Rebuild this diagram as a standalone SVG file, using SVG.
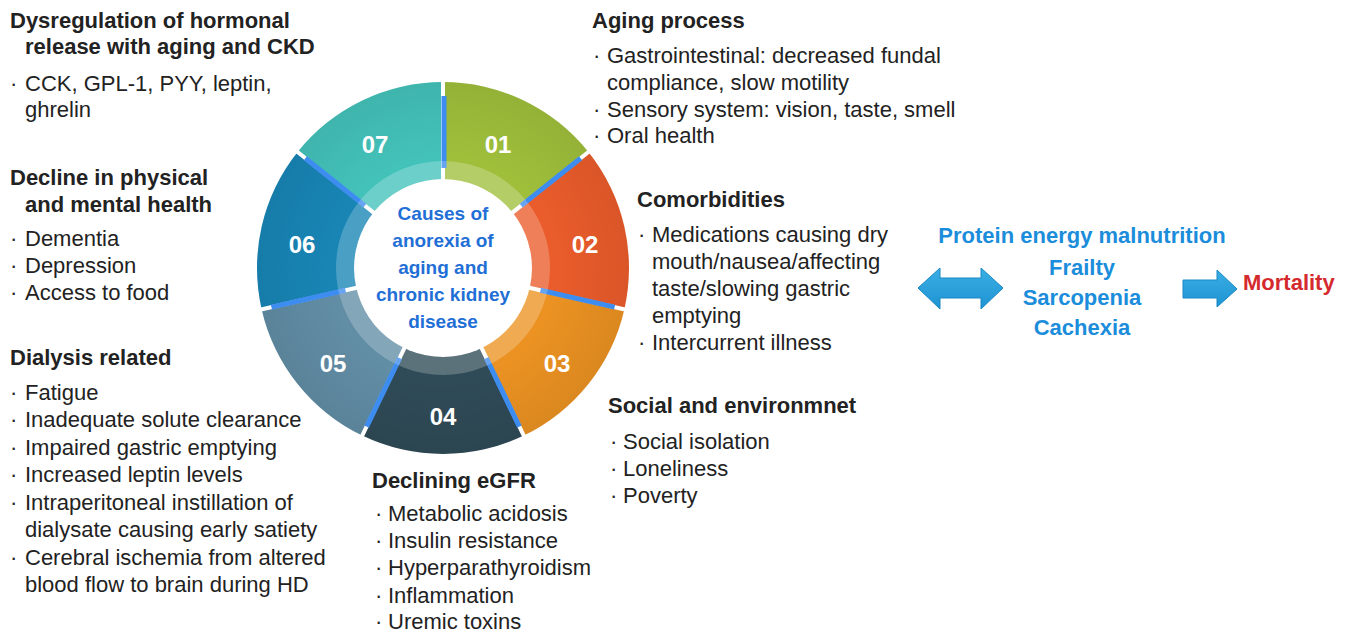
<svg xmlns="http://www.w3.org/2000/svg" width="1349" height="633" viewBox="0 0 1349 633">
<style>
.h{font-family:"Liberation Sans",Arial,sans-serif;font-weight:bold;font-size:22px;fill:#222}
.b{font-family:"Liberation Sans",Arial,sans-serif;font-size:22px;fill:#222}
.num{font-family:"Liberation Sans",Arial,sans-serif;font-weight:bold;font-size:24px;fill:#fff;text-anchor:middle}
.ctr{font-family:"Liberation Sans",Arial,sans-serif;font-weight:bold;font-size:19px;fill:#1f6fd6;text-anchor:middle}
.out{font-family:"Liberation Sans",Arial,sans-serif;font-weight:bold;font-size:22px;fill:#1b8ddb;text-anchor:middle}
.gap{stroke:#fff;stroke-width:4}
.blue{stroke:#3d8cf0;stroke-width:5}
</style>
<defs>
<radialGradient id="shade" cx="443" cy="268" r="186" gradientUnits="userSpaceOnUse">
<stop offset="0.6" stop-color="#000" stop-opacity="0"/>
<stop offset="1" stop-color="#000" stop-opacity="0.07"/>
</radialGradient>
<linearGradient id="arr" x1="0" y1="0" x2="0" y2="1">
<stop offset="0" stop-color="#3aaee4"/>
<stop offset="1" stop-color="#1d93d2"/>
</linearGradient>
</defs>
<rect width="1349" height="633" fill="#fff"/>

<g id="wheel">
<g id="seg01"><path d="M443,82 A186,186 0 0 1 588.42,152.03 L510.24,214.38 A86,86 0 0 0 443,182 Z" fill="#9fbf3b"/></g>
<g id="seg02"><path d="M588.42,152.03 A186,186 0 0 1 624.34,309.39 L526.84,287.14 A86,86 0 0 0 510.24,214.38 Z" fill="#ea5c2b"/></g>
<g id="seg03"><path d="M624.34,309.39 A186,186 0 0 1 523.70,435.58 L480.31,345.48 A86,86 0 0 0 526.84,287.14 Z" fill="#eb9222"/></g>
<g id="seg04"><path d="M523.70,435.58 A186,186 0 0 1 362.30,435.58 L405.69,345.48 A86,86 0 0 0 480.31,345.48 Z" fill="#2f4b57"/></g>
<g id="seg05"><path d="M362.30,435.58 A186,186 0 0 1 261.66,309.39 L359.16,287.14 A86,86 0 0 0 405.69,345.48 Z" fill="#618da5"/></g>
<g id="seg06"><path d="M261.66,309.39 A186,186 0 0 1 297.58,152.03 L375.76,214.38 A86,86 0 0 0 359.16,287.14 Z" fill="#1885b5"/></g>
<g id="seg07"><path d="M297.58,152.03 A186,186 0 0 1 443,82 L443,182 A86,86 0 0 0 375.76,214.38 Z" fill="#43c2ba"/></g>
<circle cx="443" cy="268" r="186" fill="url(#shade)"/>
<g id="gaps">
<line class="gap" x1="443" y1="184" x2="443" y2="78"/>
<line class="gap" x1="508.67" y1="215.63" x2="591.55" y2="149.54"/>
<line class="gap" x1="524.89" y1="286.69" x2="628.24" y2="310.28"/>
<line class="gap" x1="479.45" y1="343.68" x2="525.44" y2="439.18"/>
<line class="gap" x1="406.55" y1="343.68" x2="360.56" y2="439.18"/>
<line class="gap" x1="361.11" y1="286.69" x2="257.76" y2="310.28"/>
<line class="gap" x1="377.33" y1="215.63" x2="294.45" y2="149.54"/>
<line class="blue" x1="444" y1="168" x2="444" y2="96"/>
<line class="blue" x1="521.18" y1="205.65" x2="580.60" y2="158.27"/>
<line class="blue" x1="540.49" y1="290.25" x2="614.59" y2="307.16"/>
<line class="blue" x1="486.39" y1="358.10" x2="519.36" y2="426.57"/>
<line class="blue" x1="399.61" y1="358.10" x2="366.64" y2="426.57"/>
<line class="blue" x1="345.51" y1="290.25" x2="271.41" y2="307.16"/>
<line class="blue" x1="364.82" y1="205.65" x2="305.40" y2="158.27"/>
</g>
<circle cx="443" cy="268" r="98" fill="none" stroke="#fff" stroke-width="18" stroke-opacity="0.22"/>
<circle cx="443" cy="268" r="89" fill="#fff"/>
<text class="num" x="498" y="153">01</text>
<text class="num" x="585" y="253">02</text>
<text class="num" x="557" y="372">03</text>
<text class="num" x="443" y="425">04</text>
<text class="num" x="333" y="372">05</text>
<text class="num" x="302" y="253">06</text>
<text class="num" x="375" y="153">07</text>
<g id="center">
<text class="ctr" x="443" y="220">Causes of</text>
<text class="ctr" x="443" y="247">anorexia of</text>
<text class="ctr" x="443" y="274">aging and</text>
<text class="ctr" x="443" y="301">chronic kidney</text>
<text class="ctr" x="443" y="328">disease</text>
</g>
</g>

<g id="hormonal">
<text class="h" x="10" y="28">Dysregulation of hormonal</text>
<text class="h" x="25" y="54">release with aging and CKD</text>
<text class="b" x="10" y="91">·<tspan x="25">CCK, GPL-1, PYY, leptin,</tspan></text>
<text class="b" x="25" y="117">ghrelin</text>
</g>
<g id="decline">
<text class="h" x="10" y="185">Decline in physical</text>
<text class="h" x="25" y="212">and mental health</text>
<text class="b" x="10" y="246">·<tspan x="25">Dementia</tspan></text>
<text class="b" x="10" y="273">·<tspan x="25">Depression</tspan></text>
<text class="b" x="10" y="300">·<tspan x="25">Access to food</tspan></text>
</g>
<g id="dialysis">
<text class="h" x="10" y="365">Dialysis related</text>
<text class="b" x="10" y="400">·<tspan x="25">Fatigue</tspan></text>
<text class="b" x="10" y="427">·<tspan x="25">Inadequate solute clearance</tspan></text>
<text class="b" x="10" y="455">·<tspan x="25">Impaired gastric emptying</tspan></text>
<text class="b" x="10" y="482">·<tspan x="25">Increased leptin levels</tspan></text>
<text class="b" x="10" y="510">·<tspan x="25">Intraperitoneal instillation of</tspan></text>
<text class="b" x="25" y="537">dialysate causing early satiety</text>
<text class="b" x="10" y="565">·<tspan x="25">Cerebral ischemia from altered</tspan></text>
<text class="b" x="25" y="592">blood flow to brain during HD</text>
</g>
<g id="aging">
<text class="h" x="592" y="28">Aging process</text>
<text class="b" x="593" y="63">·<tspan x="607">Gastrointestinal: decreased fundal</tspan></text>
<text class="b" x="607" y="90">compliance, slow motility</text>
<text class="b" x="593" y="117">·<tspan x="607">Sensory system: vision, taste, smell</tspan></text>
<text class="b" x="593" y="143">·<tspan x="607">Oral health</tspan></text>
</g>
<g id="comorbidities">
<text class="h" x="637" y="207">Comorbidities</text>
<text class="b" x="638" y="242">·<tspan x="652">Medications causing dry</tspan></text>
<text class="b" x="652" y="269">mouth/nausea/affecting</text>
<text class="b" x="652" y="296">taste/slowing gastric</text>
<text class="b" x="652" y="323">emptying</text>
<text class="b" x="638" y="350">·<tspan x="652">Intercurrent illness</tspan></text>
</g>
<g id="social">
<text class="h" x="608" y="413">Social and environmnet</text>
<text class="b" x="610" y="449">·<tspan x="623">Social isolation</tspan></text>
<text class="b" x="610" y="476">·<tspan x="623">Loneliness</tspan></text>
<text class="b" x="610" y="503">·<tspan x="623">Poverty</tspan></text>
</g>
<g id="egfr">
<text class="h" x="372" y="488">Declining eGFR</text>
<text class="b" x="375" y="521">·<tspan x="388">Metabolic acidosis</tspan></text>
<text class="b" x="375" y="548">·<tspan x="388">Insulin resistance</tspan></text>
<text class="b" x="375" y="575">·<tspan x="388">Hyperparathyroidism</tspan></text>
<text class="b" x="375" y="603">·<tspan x="388">Inflammation</tspan></text>
<text class="b" x="375" y="629">·<tspan x="388">Uremic toxins</tspan></text>
</g>

<g id="connectors">
<path d="M918,288 L940,268 L940,278 L981,278 L981,268 L1003,288 L981,309 L981,298 L940,298 L940,309 Z" fill="url(#arr)" stroke="#1a88c4" stroke-width="1"/>
<path d="M1183,280 L1217,280 L1217,270 L1237,289 L1217,307 L1217,298 L1183,298 Z" fill="url(#arr)" stroke="#1a88c4" stroke-width="1"/>
</g>

<g id="outcomes">
<text class="out" x="1082" y="243">Protein energy malnutrition</text>
<text class="out" x="1082" y="275">Frailty</text>
<text class="out" x="1082" y="305">Sarcopenia</text>
<text class="out" x="1082" y="335">Cachexia</text>
</g>
<g id="mortality">
<text x="1243" y="290" style="font-family:'Liberation Sans',Arial,sans-serif;font-weight:bold;font-size:22px;fill:#d42a2e">Mortality</text>
</g>
</svg>
